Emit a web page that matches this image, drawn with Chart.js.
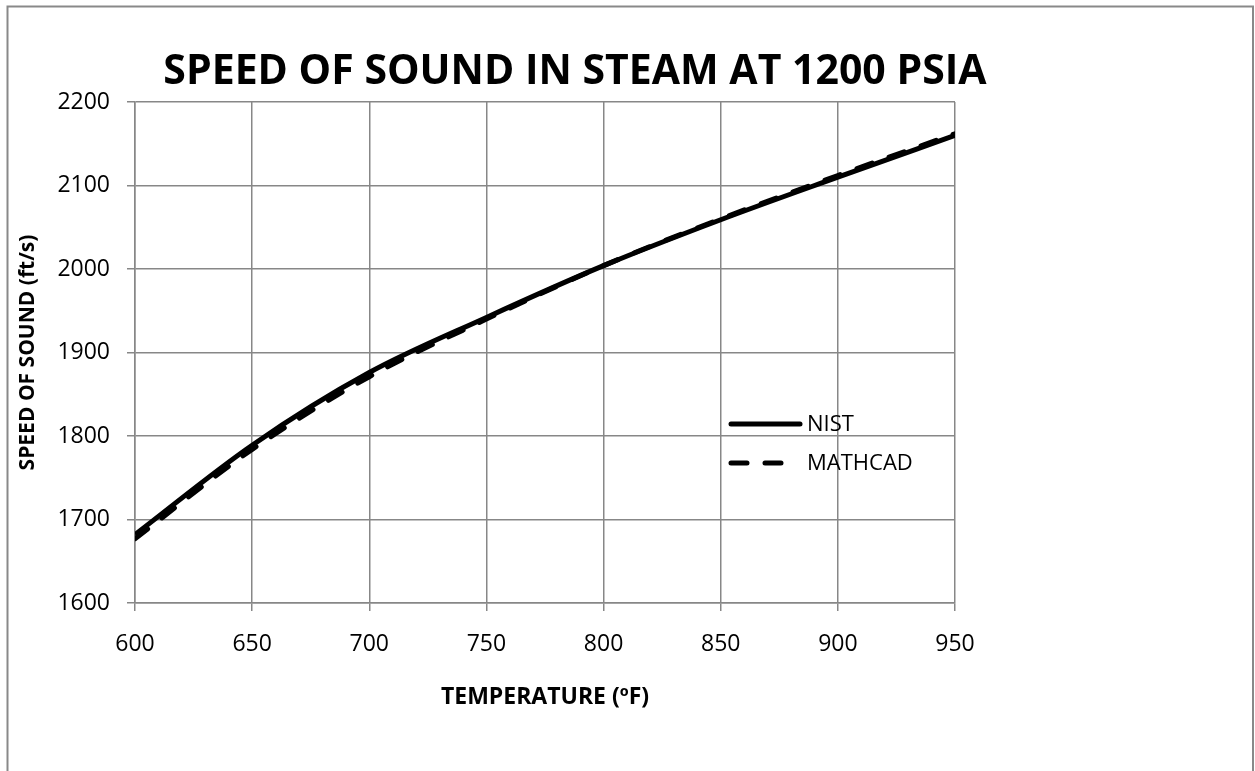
<!DOCTYPE html>
<html>
<head>
<meta charset="utf-8">
<script src="https://cdn.jsdelivr.net/npm/chart.js@4.4.1/dist/chart.umd.min.js"></script>
<style>
  html, body { margin: 0; padding: 0; background: #ffffff; }
  #wrap { position: relative; width: 1255px; height: 771px; }
</style>
</head>
<body>
<div id="wrap"><canvas id="chartCanvas" width="1255" height="771"></canvas></div>
<script>
// Speed of sound in steam at 1200 psia
const temperatures = [600, 650, 700, 750, 800, 850, 900, 950];
const nistSpeed    = [1682, 1789, 1876, 1942, 2004, 2059, 2110, 2160];
const mathcadSpeed = [1677, 1784, 1871, 1940, 2004, 2060, 2112, 2162];
const xTicks = [600, 650, 700, 750, 800, 850, 900, 950];
const yTicks = [1600, 1700, 1800, 1900, 2000, 2100, 2200];

const gridGray = '#878787';
const tickFont = { family: "'Open Sans', sans-serif", size: 23 };

const toPoints = (xs, ys) => xs.map((x, i) => ({ x: x, y: ys[i] }));

// outer frame, title and the in-plot legend
const decorations = {
  id: 'decorations',
  beforeDraw(chart) {
    const ctx = chart.ctx;
    ctx.save();
    ctx.fillStyle = '#ffffff';
    ctx.fillRect(0, 0, chart.width, chart.height);
    ctx.strokeStyle = '#898989';
    ctx.lineWidth = 2;
    ctx.strokeRect(7.5, 6.5, 1245.5, 900);
    ctx.restore();
  },
  afterDraw(chart) {
    const ctx = chart.ctx;
    ctx.save();
    ctx.fillStyle = '#000000';
    ctx.font = "bold 41px 'Open Sans', sans-serif";
    ctx.textAlign = 'center';
    ctx.textBaseline = 'alphabetic';
    ctx.fillText('SPEED OF SOUND IN STEAM AT 1200 PSIA', 575, 84);

    // legend
    const rows = [
      { ds: chart.data.datasets[0], y: 424, x2: 800 },
      { ds: chart.data.datasets[1], y: 463, x2: 787 }
    ];
    ctx.textAlign = 'left';
    ctx.textBaseline = 'middle';
    ctx.font = "22px 'Open Sans', sans-serif";
    rows.forEach(r => {
      ctx.beginPath();
      ctx.setLineDash(r.ds.borderDash || []);
      ctx.lineWidth = r.ds.borderWidth;
      ctx.strokeStyle = r.ds.borderColor;
      ctx.lineCap = 'round';
      ctx.moveTo(731, r.y);
      ctx.lineTo(r.x2, r.y);
      ctx.stroke();
      ctx.setLineDash([]);
      ctx.fillText(r.ds.label, 807, r.y + 1);
    });
    ctx.restore();
  }
};

const ctx = document.getElementById('chartCanvas').getContext('2d');

const myChart = new Chart(ctx, {
  type: 'line',
  data: {
    datasets: [
      {
        label: 'NIST',
        data: toPoints(temperatures, nistSpeed),
        borderColor: '#000000',
        borderWidth: 5,
        pointRadius: 0,
        cubicInterpolationMode: 'monotone',
        fill: false
      },
      {
        label: 'MATHCAD',
        data: toPoints(temperatures, mathcadSpeed),
        borderColor: '#000000',
        borderWidth: 5,
        borderDash: [16, 18],
        borderCapStyle: 'round',
        pointRadius: 0,
        cubicInterpolationMode: 'monotone',
        fill: false
      }
    ]
  },
  options: {
    responsive: false,
    animation: false,
    layout: {
      padding: { left: 0, right: 300, top: 102, bottom: 0 }
    },
    plugins: {
      legend: { display: false },
      title: { display: false },
      tooltip: { enabled: false }
    },
    scales: {
      x: {
        type: 'linear',
        min: 600,
        max: 950,
        afterBuildTicks: (scale) => { scale.ticks = xTicks.map(v => ({ value: v })); },
        afterFit: (scale) => { scale.height = 168; },
        grid: { color: gridGray, lineWidth: 1.5, tickLength: 8, drawTicks: true },
        border: { display: true, color: gridGray, width: 1.5 },
        ticks: { color: '#000000', font: tickFont, padding: 20, maxRotation: 0, callback: (v) => String(v) },
        title: {
          display: true,
          text: 'TEMPERATURE (ºF)',
          color: '#000000',
          font: { family: "'Open Sans', sans-serif", size: 23, weight: 'bold' },
          padding: { top: 0, bottom: 60 }
        }
      },
      y: {
        type: 'linear',
        min: 1600,
        max: 2200,
        afterBuildTicks: (scale) => { scale.ticks = yTicks.map(v => ({ value: v })); },
        afterFit: (scale) => { scale.width = 135; },
        grid: { color: gridGray, lineWidth: 1.5, tickLength: 8, drawTicks: true },
        border: { display: true, color: gridGray, width: 1.5 },
        ticks: { color: '#000000', font: tickFont, padding: 17, callback: (v) => String(v) },
        title: {
          display: true,
          text: 'SPEED OF SOUND (ft/s)',
          color: '#000000',
          font: { family: "'Open Sans', sans-serif", size: 21, weight: 'bold' },
          padding: { top: 15, bottom: 0 }
        }
      }
    }
  },
  plugins: [decorations]
});
</script>
</body>
</html>
